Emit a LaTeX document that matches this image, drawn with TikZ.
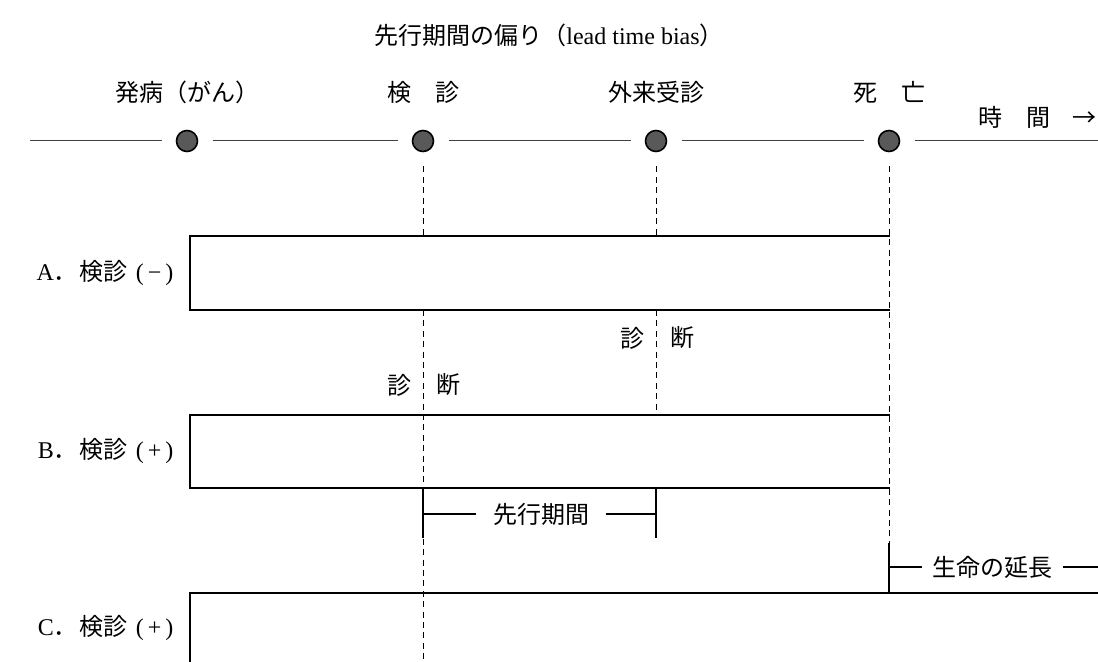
\documentclass[tikz,border=0pt]{standalone}
\usepackage{fontspec}
\setmainfont{Liberation Serif}
\newfontfamily\jp{Noto Sans CJK JP}
\usetikzlibrary{positioning}

\tikzset{
  dot/.style={circle, draw=black, fill=black!65, line width=0.8pt, minimum size=10.5pt, inner sep=0pt, outer sep=7.5pt},
  lbl/.style={font=\jp\fontsize{12}{14}\selectfont, inner sep=0pt},
  guide/.style={dash pattern=on 3pt off 2.2pt, line width=0.5pt},
  gap/.style={inner xsep=8pt}
}

\begin{document}
\begin{tikzpicture}[x=0.5pt, y=-0.5pt, line width=0.6pt]
  \useasboundingbox (0,0) rectangle (1098,662);
  \node[lbl] (title) at (549,35) {先行期間の偏り（{\rmfamily lead time bias}）};
  % time axis
  \node[dot] (onset) at (187,141) {};
  \node[dot] (screen) at (423,141) {};
  \node[dot] (visit) at (656,141) {};
  \node[dot] (death) at (889,141) {};
  \draw [black!75, line width=0.5pt] (30,141) coordinate (tl) -- (onset) -- (screen) -- (visit) -- (death) -- (1098,141) coordinate (tr);
  \node[lbl, above=5.5pt of onset] (onsetlbl) {発病（がん）};
  \node[lbl, above=5.5pt of screen] (screenlbl) {検　診};
  \node[lbl, above=5.5pt of visit] (visitlbl) {外来受診};
  \node[lbl, above=5.5pt of death] (deathlbl) {死　亡};
  \node[lbl, anchor=east] (timelbl) at (1097,117) {時　間\hspace{11pt}→};
  % rows
  \draw (890,236) coordinate (Atr) -- (190,236) coordinate (Atl) -- (190,310) coordinate (Abl) -- (890,310) coordinate (Abr);
  \draw (890,415) coordinate (Btr) -- (190,415) coordinate (Btl) -- (190,488) coordinate (Bbl) -- (890,488) coordinate (Bbr);
  \draw (190,662) coordinate (Cbl) -- (190,593) coordinate (Ctl) -- (1098,593) coordinate (Ctr);
  \node[lbl, anchor=east] (rowA) at (174,273) {{\rmfamily A}．\hspace{1pt}検診\hspace{4pt}{\rmfamily (\kern2pt−\kern2pt)}};
  \node[lbl, anchor=east] (rowB) at (174,451) {{\rmfamily B}．\hspace{1pt}検診\hspace{4pt}{\rmfamily (\kern2pt+\kern2pt)}};
  \node[lbl, anchor=east] (rowC) at (174,628) {{\rmfamily C}．\hspace{1pt}検診\hspace{4pt}{\rmfamily (\kern2pt+\kern2pt)}};
  % guides
  \draw[guide] (screen) -- (screen |- Atl);
  \draw[guide] (screen |- Abl) -- (screen |- Cbl);
  \draw[guide] (visit) -- (visit |- Atl);
  \draw[guide] (visit |- Abl) -- (visit |- Btl);
  \draw[guide] (death) -- (889,543) coordinate (gain);
  \draw (gain) -- (death |- Ctl);
  \node[lbl, anchor=east] (dxvisitL) at (645,338) {診};
  \node[lbl, anchor=west] (dxvisitR) at (670,338) {断};
  \node[lbl, anchor=east] (dxscreenL) at (412,385) {診};
  \node[lbl, anchor=west] (dxscreenR) at (436,385) {断};
  % lead time
  \node[lbl, gap] (lead) at (541,514) {先行期間};
  \draw (screen |- Bbl) -- (423,538) coordinate (leadL);
  \draw (visit |- Bbl) -- (656,538) coordinate (leadR);
  \draw (screen |- lead) -- (lead.west);
  \draw (lead.east) -- (visit |- lead);
  % extension of life
  \node[lbl, inner xsep=5pt, anchor=west] (life) at (922,567) {生命の延長};
  \draw (gain |- life) -- (life.west);
  \draw (life.east) -- (tr |- life);
\end{tikzpicture}
\end{document}
